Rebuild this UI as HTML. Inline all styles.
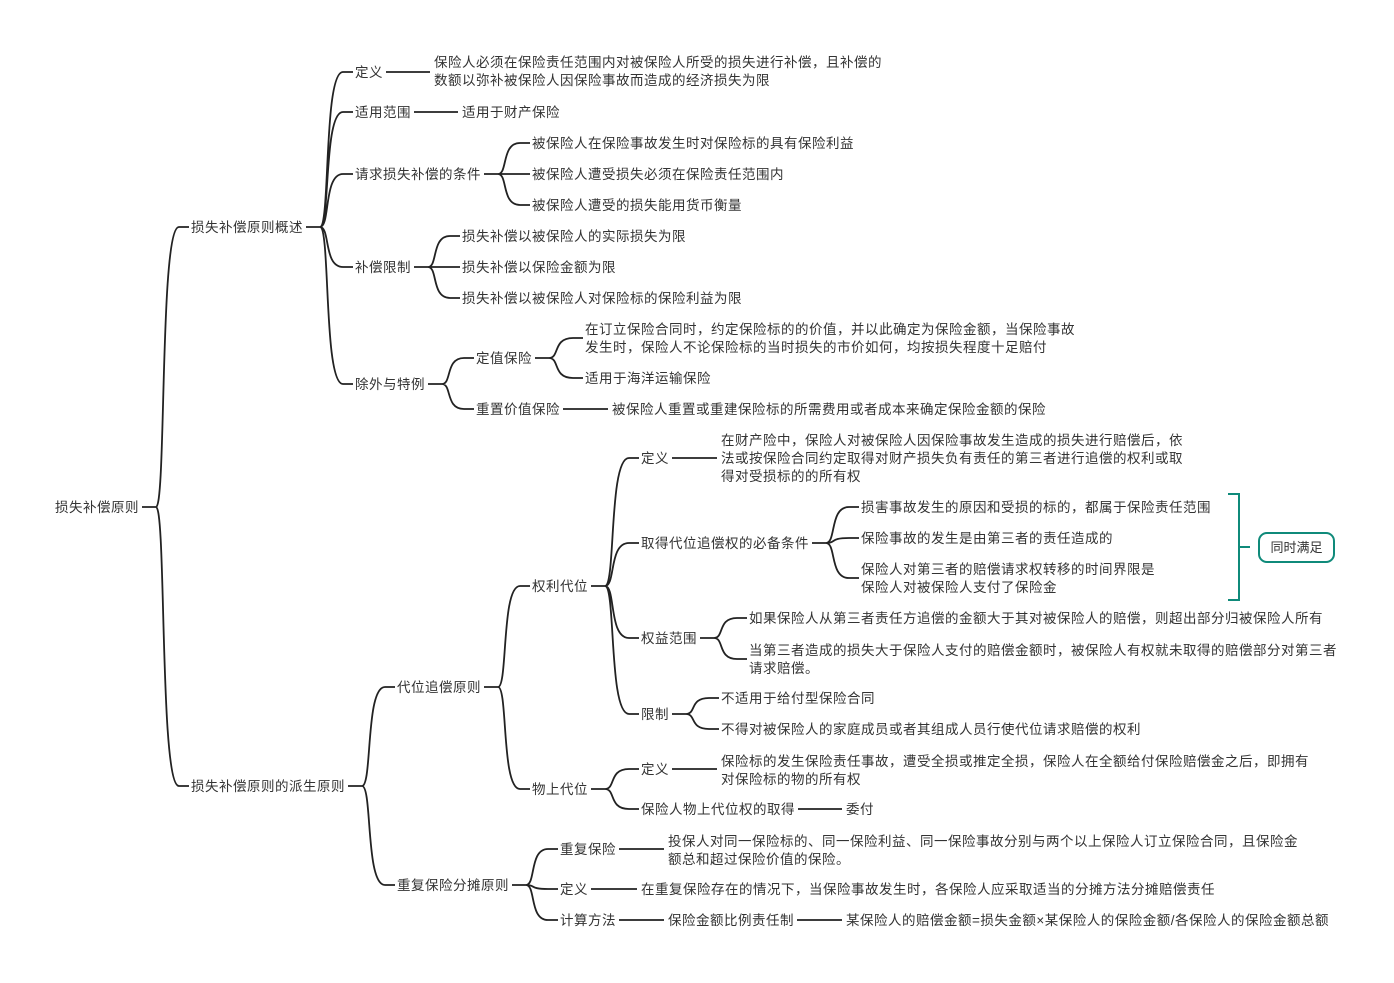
<!DOCTYPE html>
<html><head><meta charset="utf-8">
<style>
html,body{margin:0;padding:0;background:#fff;}
#c{position:relative;width:1394px;height:983px;overflow:hidden;}
.t{position:absolute;font:13.5px/18px "Liberation Sans","Noto Sans CJK SC",sans-serif;letter-spacing:0.5px;color:#333;white-space:nowrap;}
svg{position:absolute;left:0;top:0;}
</style></head><body>
<div id="c">
<svg id="s" width="1394" height="983"></svg>
</div>
<script>
var N=[
["r","损失补偿原则",55,507,null],
["A","损失补偿原则概述",191,227,"r"],
["A1","定义",355,72,"A"],
["A1a","保险人必须在保险责任范围内对被保险人所受的损失进行补偿，且补偿的<br>数额以弥补被保险人因保险事故而造成的经济损失为限",434,71,"A1"],
["A2","适用范围",355,112,"A"],
["A2a","适用于财产保险",462,112,"A2"],
["A3","请求损失补偿的条件",355,174,"A"],
["A3a","被保险人在保险事故发生时对保险标的具有保险利益",532,143,"A3"],
["A3b","被保险人遭受损失必须在保险责任范围内",532,174,"A3"],
["A3c","被保险人遭受的损失能用货币衡量",532,205,"A3"],
["A4","补偿限制",355,267,"A"],
["A4a","损失补偿以被保险人的实际损失为限",462,236,"A4"],
["A4b","损失补偿以保险金额为限",462,267,"A4"],
["A4c","损失补偿以被保险人对保险标的保险利益为限",462,298,"A4"],
["A5","除外与特例",355,384,"A"],
["A5a","定值保险",476,358,"A5"],
["A5a1","在订立保险合同时，约定保险标的的价值，并以此确定为保险金额，当保险事故<br>发生时，保险人不论保险标的当时损失的市价如何，均按损失程度十足赔付",585,338,"A5a"],
["A5a2","适用于海洋运输保险",585,378,"A5a"],
["A5b","重置价值保险",476,409,"A5"],
["A5b1","被保险人重置或重建保险标的所需费用或者成本来确定保险金额的保险",612,409,"A5b"],
["B","损失补偿原则的派生原则",191,786,"r"],
["B1","代位追偿原则",397,687,"B"],
["B1a","权利代位",532,586,"B1"],
["D1","定义",641,458,"B1a"],
["D1a","在财产险中，保险人对被保险人因保险事故发生造成的损失进行赔偿后，依<br>法或按保险合同约定取得对财产损失负有责任的第三者进行追偿的权利或取<br>得对受损标的的所有权",721,458,"D1"],
["D2","取得代位追偿权的必备条件",641,543,"B1a"],
["D2a","损害事故发生的原因和受损的标的，都属于保险责任范围",861,507,"D2"],
["D2b","保险事故的发生是由第三者的责任造成的",861,538,"D2"],
["D2c","保险人对第三者的赔偿请求权转移的时间界限是<br>保险人对被保险人支付了保险金",861,578,"D2"],
["D3","权益范围",641,638,"B1a"],
["D3a","如果保险人从第三者责任方追偿的金额大于其对被保险人的赔偿，则超出部分归被保险人所有",749,618,"D3"],
["D3b","当第三者造成的损失大于保险人支付的赔偿金额时，被保险人有权就未取得的赔偿部分对第三者<br>请求赔偿。",749,659,"D3"],
["D4","限制",641,714,"B1a"],
["D4a","不适用于给付型保险合同",721,698,"D4"],
["D4b","不得对被保险人的家庭成员或者其组成人员行使代位请求赔偿的权利",721,729,"D4"],
["B1b","物上代位",532,789,"B1"],
["E1","定义",641,769,"B1b"],
["E1a","保险标的发生保险责任事故，遭受全损或推定全损，保险人在全额给付保险赔偿金之后，即拥有<br>对保险标的物的所有权",721,770,"E1"],
["E2","保险人物上代位权的取得",641,809,"B1b"],
["E2a","委付",846,809,"E2"],
["B2","重复保险分摊原则",397,885,"B"],
["F1","重复保险",560,849,"B2"],
["F1a","投保人对同一保险标的、同一保险利益、同一保险事故分别与两个以上保险人订立保险合同，且保险金<br>额总和超过保险价值的保险。",668,850,"F1"],
["F2","定义",560,889,"B2"],
["F2a","在重复保险存在的情况下，当保险事故发生时，各保险人应采取适当的分摊方法分摊赔偿责任",641,889,"F2"],
["F3","计算方法",560,920,"B2"],
["F3a","保险金额比例责任制",668,920,"F3"],
["F3b","某保险人的赔偿金额=损失金额×某保险人的保险金额/各保险人的保险金额总额",846,920,"F3a"]
];
var c=document.getElementById('c'),s=document.getElementById('s'),M={},K={};
N.forEach(function(n){var d=document.createElement('div');d.className='t';d.innerHTML=n[1];
var lines=n[1].split('<br>').length;d.style.left=n[2]+'px';d.style.top=(n[3]-lines*9+1)+'px';c.appendChild(d);
M[n[0]]={x:n[2],y:n[3],el:d,p:n[4]};if(n[4]){(K[n[4]]=K[n[4]]||[]).push(n[0]);}});
var P='';
function w(id){var m=M[id];var r=m.el.getBoundingClientRect();return m.x+r.width;}
for(var p in K){var m=M[p],ch=K[p];var px=w(p)+3,py=m.y;
 if(ch.length==1){var c1=M[ch[0]];P+='M'+px+' '+py+'H'+(c1.x-4)+' ';}
 else{var jx=px+14;P+='M'+px+' '+py+'H'+jx+' ';
  ch.forEach(function(k){var q=M[k];var ex=q.x-12,dx=ex-jx;
   P+='M'+jx+' '+py+'C'+(jx+dx*0.45)+' '+py+' '+(jx+dx*0.15)+' '+q.y+' '+ex+' '+q.y+'H'+(q.x-2)+' ';});}
}
s.innerHTML='<path d="'+P+'" fill="none" stroke="#222" stroke-width="1.8"/>'+
'<path d="M1228 494H1239V600H1228M1239 547H1250" fill="none" stroke="#0f8a7a" stroke-width="2"/>'+
'<rect x="1259" y="533" width="75" height="29" rx="8" fill="#fff" stroke="#0f8a7a" stroke-width="2"/>'+
'<text x="1296.5" y="552" text-anchor="middle" font-family="Liberation Sans,Noto Sans CJK SC,sans-serif" font-size="13" fill="#333">同时满足</text>';
</script>
</body></html>
